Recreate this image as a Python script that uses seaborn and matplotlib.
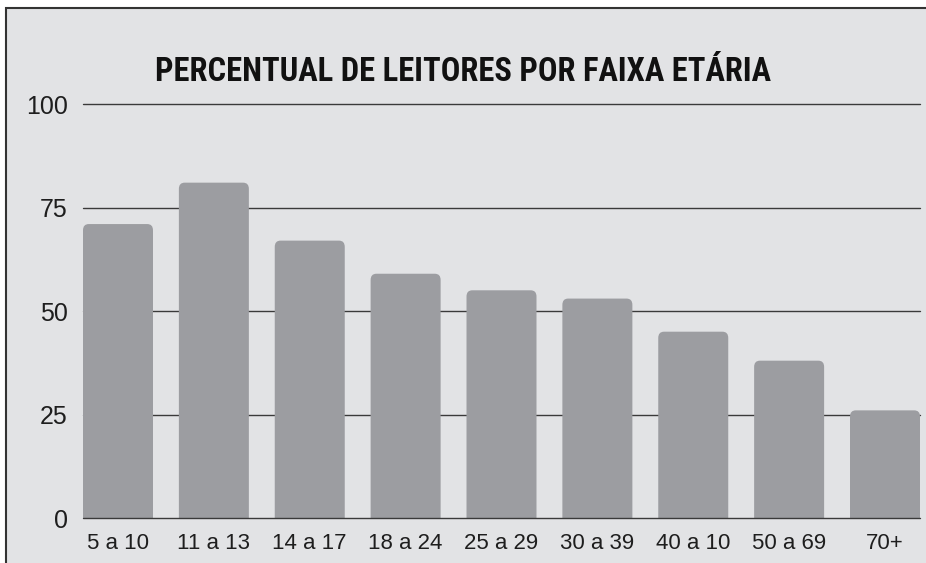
import matplotlib
matplotlib.use("Agg")
import matplotlib.pyplot as plt
import seaborn as sns
import pandas as pd
from matplotlib.patches import FancyBboxPatch, Rectangle
from matplotlib import font_manager

categories = ["5 a 10", "11 a 13", "14 a 17", "18 a 24", "25 a 29", "30 a 39", "40 a 10", "50 a 69", "70+"]
values = [71, 81, 67, 59, 55, 53, 45, 38, 26]
yticks = [0, 25, 50, 75, 100]
title = "PERCENTUAL DE LEITORES POR FAIXA ETÁRIA"

names = {f.name for f in font_manager.fontManager.ttflist}
title_family, title_stretch = "DejaVu Sans", "condensed"
for cand in ["Roboto Condensed", "Open Sans Condensed", "Liberation Sans Narrow"]:
    if cand in names:
        title_family, title_stretch = cand, "normal"
        break
label_family = "Liberation Sans"

sns.set_theme(style="white")
plt.rcParams["font.family"] = [label_family, "DejaVu Sans"]

BG = "#e2e3e5"
BAR = "#9c9da1"

fig = plt.figure(figsize=(9.26, 5.63), dpi=100)
fig.patch.set_facecolor("white")
frame = Rectangle((6 / 926, -0.05), 1.1, 1.05 - 8 / 563,
                  transform=fig.transFigure, facecolor=BG,
                  edgecolor="#333333", linewidth=1.5, zorder=-10)
fig.patches.append(frame)

ax = fig.add_axes([83 / 926, 1 - 518 / 563, (920 - 83) / 926, (518 - 104) / 563])
ax.set_facecolor("none")
ax.set_zorder(2)

df = pd.DataFrame({"cat": categories, "val": values})
sns.barplot(data=df, x="cat", y="val", color=BAR, width=0.73, saturation=1, ax=ax, zorder=2)

# replace bars with rounded-top versions derived from seaborn's bars
for p in list(ax.patches):
    x, w, h = p.get_x(), p.get_width(), p.get_height()
    rb = FancyBboxPatch((x, -3), w, h + 3,
                        boxstyle="round,pad=0,rounding_size=0.06",
                        mutation_aspect=1.5 / 0.06,
                        facecolor=BAR, edgecolor="none", zorder=2)
    ax.add_patch(rb)
    p.remove()

ax.set_xlim(-0.365, 8.365)
ax.set_ylim(0, 100)
ax.set_yticks(yticks)
for t in yticks:
    ax.axhline(t, color="#3a3a3a", linewidth=1.0, zorder=1 if t else 3, clip_on=False)
for s in ax.spines.values():
    s.set_visible(False)
ax.set_xlabel("")
ax.set_ylabel("")
ax.tick_params(axis="y", length=0, pad=11, labelsize=18, labelcolor="#1e1e1e")
ax.tick_params(axis="x", length=0, pad=11, labelsize=16, labelcolor="#1e1e1e")

ttl = fig.text(463 / 926, 1 - 72 / 563, title, ha="center", va="center",
               fontsize=30, fontweight="bold", color="#111111",
               family=[title_family, "DejaVu Sans"], fontstretch=title_stretch)
# fit title width to ~615 px
fig.canvas.draw()
r = fig.canvas.get_renderer()
wpx = ttl.get_window_extent(r).width
ttl.set_fontsize(30 * 615 / wpx)

fig.savefig("out.png", dpi=100, facecolor="white")
